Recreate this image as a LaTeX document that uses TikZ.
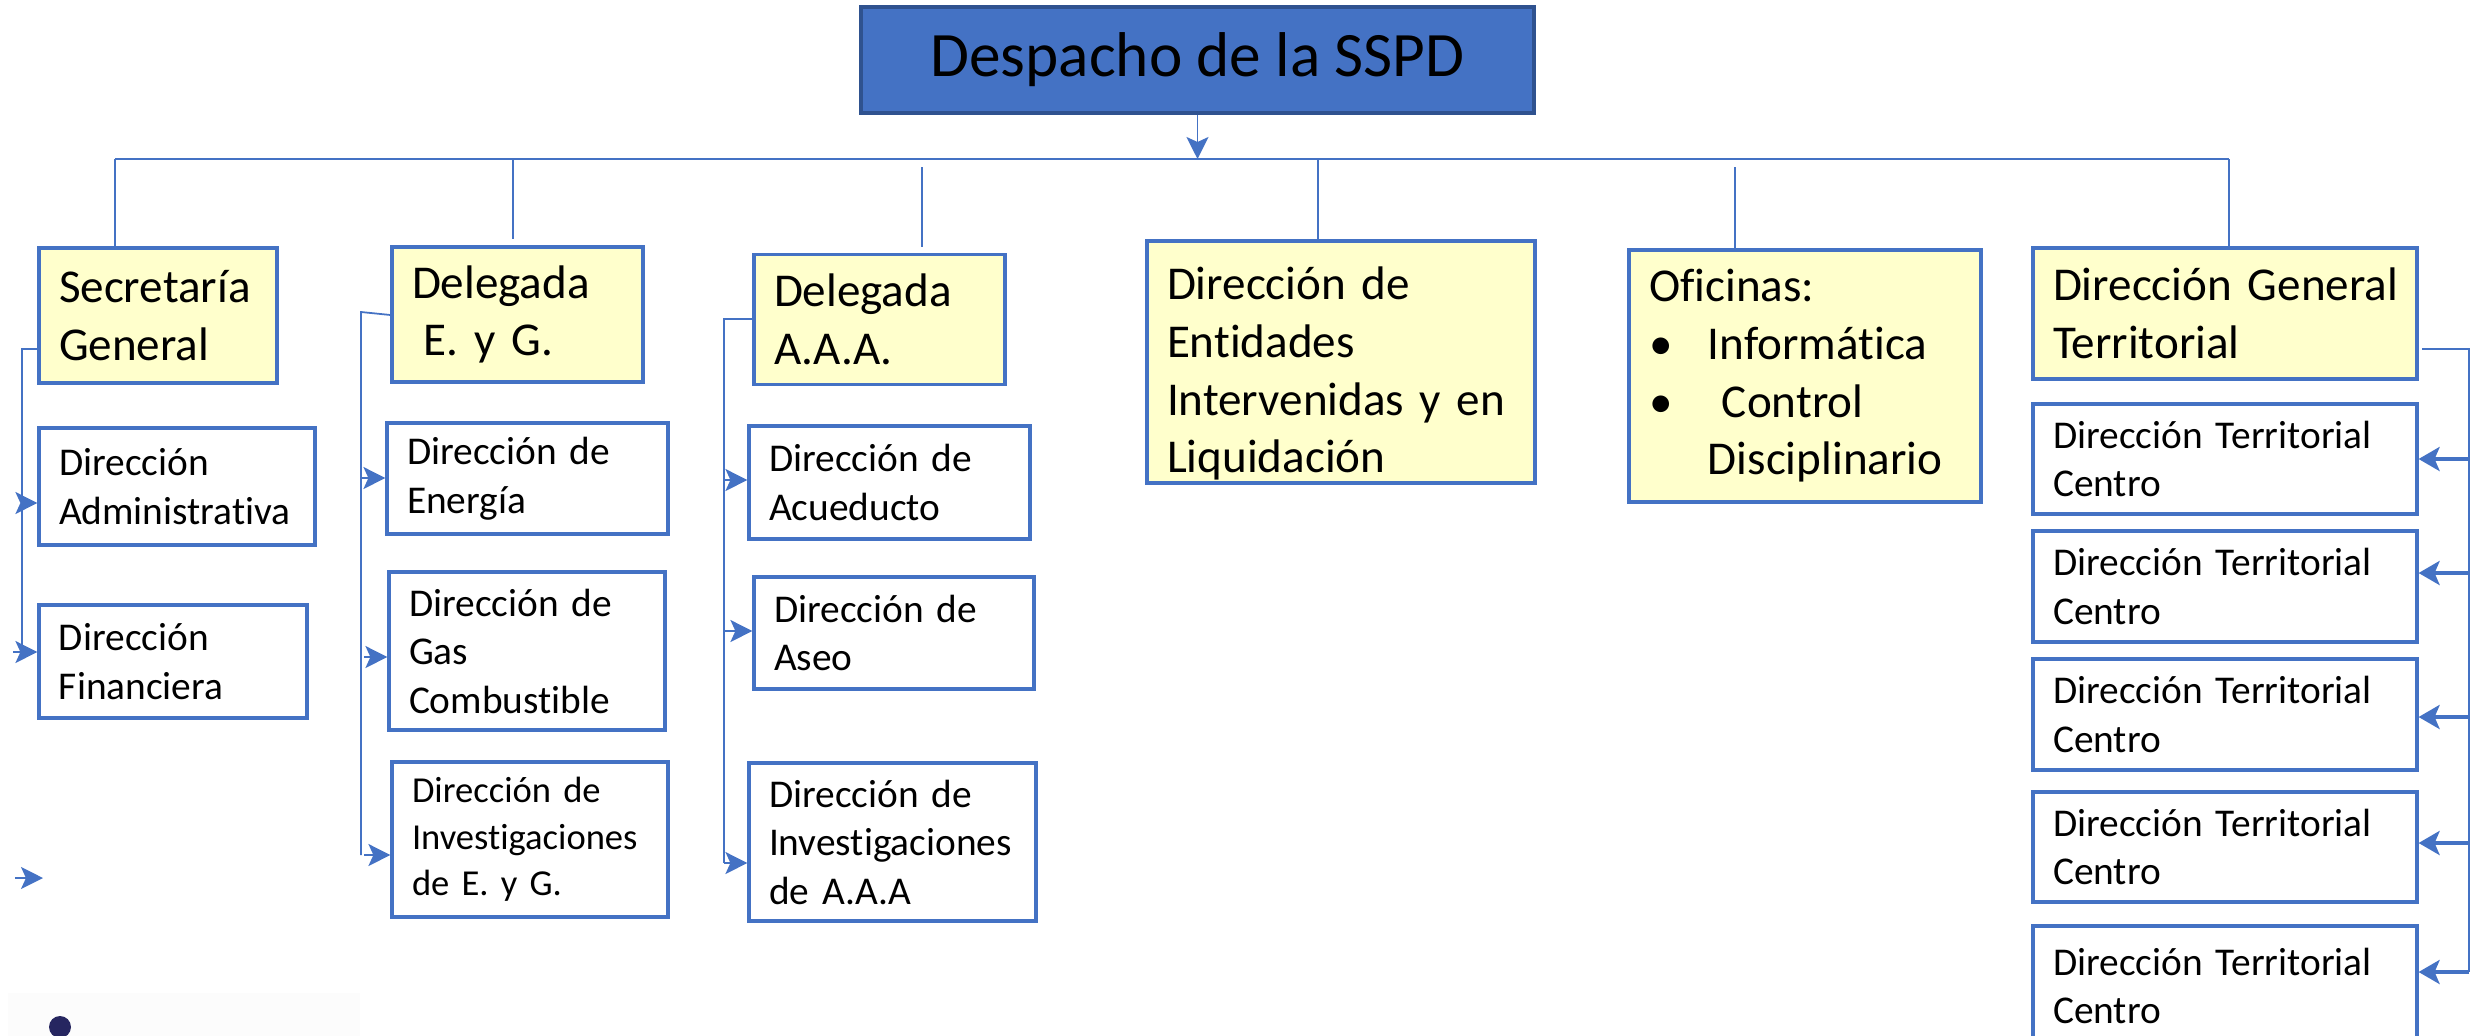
\documentclass[tikz,border=0pt]{standalone}
\usepackage{fontspec}
\setmainfont{Carlito}[Ligatures=NoCommon]
\usetikzlibrary{arrows.meta}
\definecolor{sspdBlue}{HTML}{4472C4}
\definecolor{sspdEdge}{HTML}{2F528F}
\definecolor{sspdYellow}{HTML}{FFFFCC}
\definecolor{sspdDot}{HTML}{262660}

\begin{document}
\begin{tikzpicture}[
    wire/.style={draw=sspdBlue, line width=0.5pt},
    arr/.style={wire, -{Stealth[length=2.2mm, width=2.2mm, inset=0.5mm]}},
    tarr/.style={draw=sspdBlue, line width=1.3pt, -{Stealth[length=2.1mm, width=2.4mm, inset=0.5mm]}},
    despacho/.style={
        rectangle,
        draw=sspdEdge,
        fill=sspdBlue,
        line width=1pt,
        font=\fontsize{18}{22}\selectfont,
      },
    ybox/.style={
        rectangle,
        draw=sspdBlue,
        fill=sspdYellow,
        line width=0.9pt,
        align=left,
        inner xsep=0.2cm,
        font=\fontsize{13.4}{16.4}\selectfont,
      },
    wbox/.style={
        rectangle,
        draw=sspdBlue,
        fill=white,
        line width=0.9pt,
        align=left,
        inner xsep=0.2cm,
        font=\fontsize{11.2}{13.8}\selectfont,
      },
  ]
  \useasboundingbox (0,0) rectangle (24.73,-10.36);

  \node[despacho, minimum width=6.73cm, minimum height=1.06cm] (ssp) at (11.975,-0.60) {Despacho de la SSPD};

  % primer nivel
  \node[ybox, minimum width=2.38cm, text width=1.98cm, minimum height=1.35cm] (sec) at (1.58,-3.155) {Secretaría\\General};
  \node[ybox, minimum width=2.51cm, text width=2.11cm, minimum height=1.35cm] (deg) at (5.175,-3.145) {Delegada\\\hspace*{.25em}E. y G.};
  \node[ybox, minimum width=2.51cm, text width=2.11cm, minimum height=1.30cm] (daa) at (8.795,-3.195) {Delegada\\A.A.A.};
  \node[ybox, minimum width=3.88cm, text width=3.48cm, minimum height=2.42cm, inner ysep=0pt] (ent) at (13.41,-3.62) {\rule{0pt}{16pt}\mbox{Dirección de}\\Entidades\\\mbox{Intervenidas y en}\\Liquidación};
  \node[ybox, minimum width=3.52cm, text width=3.12cm, minimum height=2.52cm, inner ysep=0pt] (ofi) at (18.05,-3.76)
    {Oficinas:\\\makebox[1.25em][l]{•}Informática\\\makebox[1.25em][l]{•}\hspace{.3em}Control\\\hspace*{1.25em}Disciplinario};
  \node[ybox, minimum width=3.84cm, text width=3.44cm, minimum height=1.31cm] (dgt) at (22.25,-3.135) {\mbox{Dirección General}\\Territorial};

  % direcciones
  \node[wbox, minimum width=2.76cm, text width=2.36cm, minimum height=1.17cm] (adm) at (1.77,-4.865) {Dirección\\Administrativa};
  \node[wbox, minimum width=2.68cm, text width=2.28cm, minimum height=1.13cm] (fin) at (1.73,-6.615) {Dirección\\Financiera};
  \node[wbox, minimum width=2.81cm, text width=2.41cm, minimum height=1.11cm] (ene) at (5.275,-4.785) {Dirección de\\Energía};
  \node[wbox, minimum width=2.76cm, text width=2.36cm, minimum height=1.58cm] (gas) at (5.27,-6.51) {Dirección de\\Gas\\Combustible};
  \node[wbox, minimum width=2.76cm, text width=2.36cm, minimum height=1.55cm, font=\fontsize{10.4}{13.2}\selectfont] (ieg) at (5.30,-8.395) {Dirección de\\Investigaciones\\de E. y G.};
  \node[wbox, minimum width=2.81cm, text width=2.41cm, minimum height=1.13cm] (acu) at (8.895,-4.825) {Dirección de\\Acueducto};
  \node[wbox, minimum width=2.80cm, text width=2.40cm, minimum height=1.12cm] (ase) at (8.94,-6.33) {Dirección de\\Aseo};
  \node[wbox, minimum width=2.87cm, text width=2.47cm, minimum height=1.58cm] (iaa) at (8.925,-8.42) {Dirección de\\Investigaciones\\de A.A.A};

  \foreach \i/\y/\h in {1/-4.59/1.10, 2/-5.865/1.11, 3/-7.145/1.11, 4/-8.47/1.10, 5/-9.86/1.20}
    \node[wbox, minimum width=3.84cm, text width=3.44cm, minimum height=\h*1cm] (dt\i) at (22.25,\y) {\mbox{Dirección Territorial}\\Centro};

  % bus
  \coordinate (b1) at (1.15,-1.59);
  \coordinate (b2) at (5.13,-1.59);
  \coordinate (b3) at (9.22,-1.67);
  \coordinate (b4) at (13.18,-1.59);
  \coordinate (b5) at (17.35,-1.67);
  \coordinate (b6) at (22.29,-1.59);

  \draw[arr] (ssp.south) -- (ssp.south |- b1);
  \draw[wire] (b1) -- (b6);
  \draw[wire] (b1) -- (b1 |- sec.north);
  \draw[wire] (b2) -- ([yshift=0.06cm]b2 |- deg.north);
  \draw[wire] (b3) -- ([yshift=0.06cm]b3 |- daa.north);
  \draw[wire] (b4) -- (b4 |- ent.north);
  \draw[wire] (b5) -- (b5 |- ofi.north);
  \draw[wire] (b6) -- (b6 |- dgt.north);

  % secretaria
  \coordinate (s1) at (0.22,-3.49);
  \coordinate (s2) at (0.22,-6.52);
  \draw[wire] (s1 -| sec.west) -- (s1) -- (s2);
  \coordinate (sa) at (0.21,-5.03);
  \coordinate (sf) at (0.13,-6.52);
  \draw[arr] (sa) -- (sa -| adm.west);
  \draw[arr] (sf) -- (sf -| fin.west);
  \coordinate (sx) at (0.15,-8.78);
  \coordinate (sy) at (0.43,-8.78);
  \draw[arr] (sx) -- (sy);

  % delegada E. y G.
  \coordinate (e1) at (3.61,-3.12);
  \coordinate (e2) at (3.61,-8.55);
  \draw[wire] ([yshift=-0.03cm]e1 -| deg.west) -- (e1) -- (e2);
  \coordinate (ea) at (3.61,-4.78);
  \coordinate (eb) at (3.64,-6.57);
  \coordinate (ec) at (3.64,-8.55);
  \draw[arr] (ea) -- (ea -| ene.west);
  \draw[arr] (eb) -- (eb -| gas.west);
  \draw[arr] (ec) -- (ec -| ieg.west);

  % delegada A.A.A.
  \coordinate (a1) at (7.24,-3.19);
  \coordinate (a2) at (7.24,-8.63);
  \draw[wire] (a1 -| daa.west) -- (a1) -- (a2);
  \coordinate (aa) at (7.24,-4.80);
  \coordinate (ab) at (7.24,-6.31);
  \coordinate (ac) at (7.24,-8.63);
  \draw[arr] (aa) -- (aa -| acu.west);
  \draw[arr] (ab) -- (ab -| ase.west);
  \draw[arr] (ac) -- (ac -| iaa.west);

  % territorial
  \coordinate (t0) at (24.22,-3.49);
  \coordinate (t1) at (24.69,-3.49);
  \coordinate (t2) at (24.69,-9.72);
  \draw[wire] (t0) -- (t1) -- (t2);
  \foreach \i/\y in {1/-4.59, 2/-5.73, 3/-7.17, 4/-8.43, 5/-9.72} {
    \coordinate (r\i) at (24.69,\y);
    \draw[tarr] (r\i) -- (r\i -| dt\i.east);
  }

  % resto abajo
  \fill[black!1] (0.08,-9.93) rectangle (3.60,-10.36);
  \node[circle, fill=sspdDot, minimum size=0.22cm, inner sep=0] (dot) at (0.60,-10.27) {};
\end{tikzpicture}
\end{document}
